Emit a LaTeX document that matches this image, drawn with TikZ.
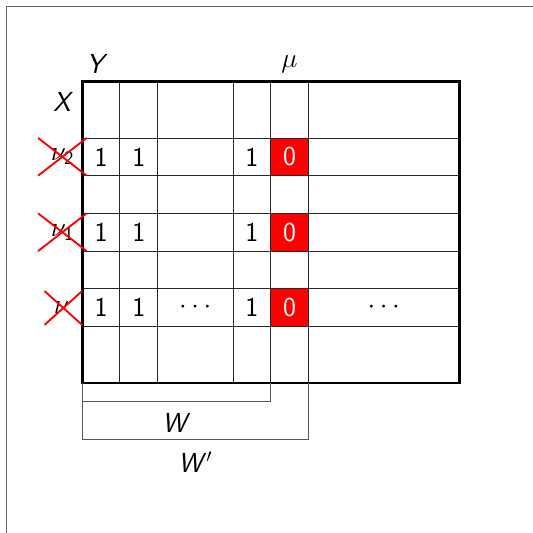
\documentclass[tikz,border=0pt]{standalone}
\usetikzlibrary{positioning}
\newcommand{\sfit}[1]{\textsf{\itshape #1}}
\begin{document}
\begin{tikzpicture}[
  x=1cm, y=1cm,
  every node/.style={font=\huge\sffamily, inner sep=0pt},
  thin grid/.style={draw=black!85, line width=0.6pt},
  outer grid/.style={draw=black, line width=2.2pt},
  bracket/.style={draw=black!65, line width=0.7pt},
  frame/.style={draw=black!60, line width=0.8pt},
  crossline/.style={draw=red, line width=1.4pt},
]
\useasboundingbox (-2.18,2.16) rectangle (11.96,-11.98);

% surrounding frame
\draw[frame] (-2,-12.5) -- (-2,2) -- (12.5,2);

% highlighted cells in the mu column
\foreach \r in {2,4,6}
  \fill[red] (5,-\r+0.5) rectangle (6,-\r-0.5);

% inner grid lines
\foreach \xx in {1,2,4,5,6}
  \draw[thin grid] (\xx,0) -- (\xx,-8);
\foreach \yy in {1.5,2.5,3.5,4.5,5.5,6.5}
  \draw[thin grid] (0,-\yy) -- (10,-\yy);
\draw[outer grid] (0,0) rectangle (10,-8);

% axis labels
\node (Y) at (0.4,0.47) {\sfit{Y}};
\node (mu) at (5.5,0.45) {$\mu$};
\node (X) at (-0.5,-0.55) {\sfit{X}};

% row labels
\node (n2) at (-0.52,-2) {$\nu_{\mathsf{2}}$};
\node (n1) at (-0.52,-4) {$\nu_{\mathsf{1}}$};
\node (n0) at (-0.55,-6) {$\nu$};

% cell entries
\foreach \r/\nm in {2/a,4/b,6/c}{
  \node (\nm1) at (0.5,-\r) {1};
  \node (\nm2) at (1.5,-\r) {1};
  \node (\nm4) at (4.5,-\r) {1};
  \node[text=white] (\nm5) at (5.5,-\r) {0};
}
\node (dotsA) at (3,-6) {$\cdots$};
\node (dotsB) at (8,-6) {$\cdots$};

% crossed out row labels
\draw[crossline] (-1.17,-1.5) -- (0.12,-2.5);
\draw[crossline] (-1.17,-2.5) -- (0.12,-1.5);
\draw[crossline] (-1.17,-3.5) -- (0.12,-4.5);
\draw[crossline] (-1.17,-4.5) -- (0.12,-3.5);
\draw[crossline] (-1.0,-5.56) -- (0,-6.46);
\draw[crossline] (-1.0,-6.46) -- (0,-5.56);

% width brackets
\coordinate (w0) at (0,-8);
\coordinate (w1) at (5,-8);
\coordinate (w2) at (6,-8);
\draw[bracket] (w0) -- ++(0,-0.5) -| (w1);
\draw[bracket] (w0) -- ++(0,-1.5) -| (w2);
\node (W) at (2.5,-9.05) {\sfit{W}};
\node (Wp) at (3.0,-10.1) {\sfit{W}$'$};
\end{tikzpicture}
\end{document}
